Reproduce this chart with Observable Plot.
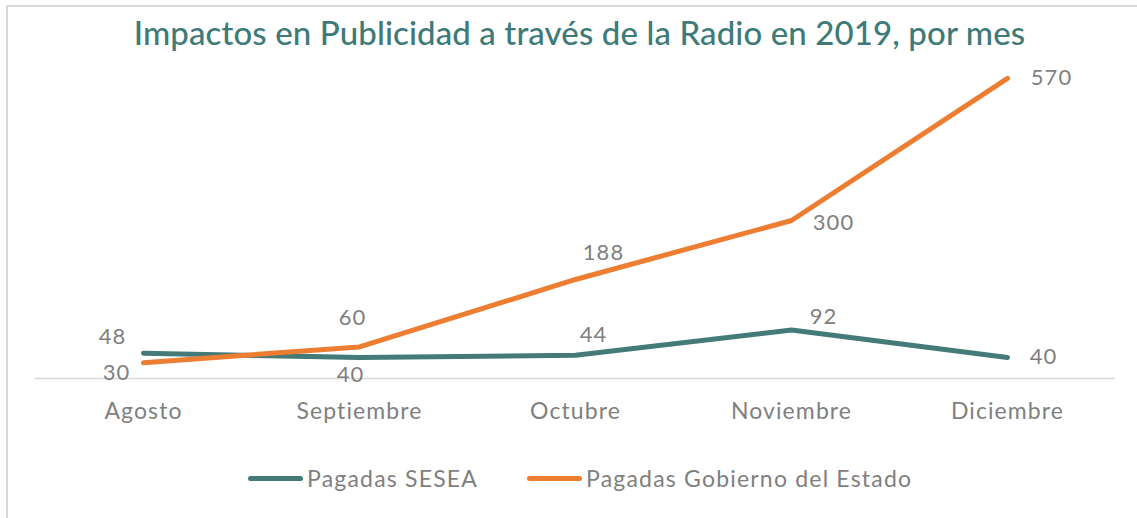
<!DOCTYPE html>
<html>
<head>
<meta charset="utf-8">
<script src="https://cdn.jsdelivr.net/npm/d3@7"></script>
<script src="https://cdn.jsdelivr.net/npm/@observablehq/plot@0.6"></script>
<style>
  html, body { margin: 0; padding: 0; background: #fff; }
  body { width: 1137px; height: 518px; position: relative; overflow: hidden; font-family: Lato, "Noto Sans", sans-serif; }
  #frame { position: absolute; left: 6px; top: 5px; width: 1200px; height: 600px; border-left: 2px solid #d9d9d9; border-top: 2px solid #d9d9d9; }
  #title { position: absolute; left: 22px; top: 12px; width: 1115px; text-align: center; font-size: 33px; color: #3e7b78; font-weight: 500; letter-spacing: 0.1px; white-space: nowrap; }
  #chart { position: absolute; left: 0; top: 62px; }
  #legend { position: absolute; left: 0; top: 461px; width: 1137px; height: 34px; }
  .item { position: absolute; top: 0; display: flex; align-items: center; height: 34px; font-size: 23px; letter-spacing: 1.2px; color: #7f7f7f; }
  .sw { width: 55px; height: 5px; border-radius: 3px; margin-right: 4px; }
  #chart svg text { letter-spacing: 1.1px; }
</style>
</head>
<body>
<div id="frame"></div>
<div id="title">Impactos en Publicidad a través de la Radio en 2019, por mes</div>
<div id="chart"></div>
<div id="legend"></div>
<script>
const months = ["Agosto", "Septiembre", "Octubre", "Noviembre", "Diciembre"];
const seriesNames = ["Pagadas SESEA", "Pagadas Gobierno del Estado"];
const sesea = [48, 40, 44, 92, 40];
const gobierno = [30, 60, 188, 300, 570];
const colors = ["#447b78", "#ed7d31"];

// label placement offsets (px) per series/month, matching the reference layout
const labelOffsets = [
  [[-31, -16], [-9, 18], [18, -20], [32, -13], [36, 0]],
  [[-27, 10], [-7, -29], [28, -27], [42, 2], [44, 0]]
];

const rows = [];
[sesea, gobierno].forEach((vals, si) => {
  vals.forEach((v, i) => rows.push({serie: seriesNames[si], mes: months[i], valor: v, si, i}));
});

const labelMarks = rows.map(r => Plot.text([r], {
  x: "mes", y: "valor", text: d => String(d.valor),
  dx: labelOffsets[r.si][r.i][0], dy: labelOffsets[r.si][r.i][1],
  fill: "#7f7f7f", fontSize: 22, lineAnchor: "middle", textAnchor: "middle"
}));

const chart = Plot.plot({
  width: 1137,
  height: 380,
  marginLeft: 35,
  marginRight: 22,
  marginTop: 0,
  marginBottom: 64,
  style: {fontFamily: "Lato, 'Noto Sans', sans-serif", background: "transparent", overflow: "visible"},
  x: {type: "point", domain: months, padding: 0.5, label: null},
  y: {domain: [0, 600], axis: null},
  color: {domain: seriesNames, range: colors},
  marks: [
    Plot.ruleY([0], {stroke: "#d9d9d9", strokeWidth: 1.5}),
    Plot.axisX({tickSize: 0, tickPadding: 24, fontSize: 23, fill: "#7f7f7f", label: null}),
    Plot.line(rows, {x: "mes", y: "valor", z: "serie", stroke: "serie", strokeWidth: 5, strokeLinecap: "round", strokeLinejoin: "round"}),
    ...labelMarks
  ]
});
document.getElementById("chart").appendChild(chart);

const legend = document.getElementById("legend");
const legendLeft = [248, 527];
seriesNames.forEach((name, i) => {
  const it = document.createElement("div");
  it.className = "item";
  it.style.left = legendLeft[i] + "px";
  it.innerHTML = `<span class="sw" style="background:${colors[i]}"></span><span>${name}</span>`;
  legend.appendChild(it);
});
</script>
</body>
</html>
